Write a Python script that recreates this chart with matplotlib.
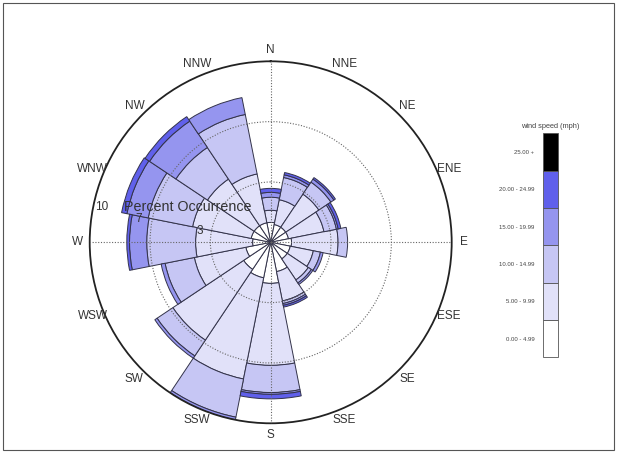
import numpy as np
import matplotlib
matplotlib.use("Agg")
import matplotlib.pyplot as plt
from matplotlib.patches import Rectangle

plt.rcParams['font.family'] = ['Liberation Sans', 'DejaVu Sans']

directions = ["N", "NNE", "NE", "ENE", "E", "ESE", "SE", "SSE",
              "S", "SSW", "SW", "WSW", "W", "WNW", "NW", "NNW"]
bin_labels = ["0.00 - 4.99", "5.00 - 9.99", "10.00 - 14.99",
              "15.00 - 19.99", "20.00 - 24.99", "25.00 +"]
bin_colors = ["#ffffff", "#e1e1f9", "#c6c6f4", "#9595ef", "#6060eb", "#000000"]

# percent occurrence per speed bin (rows follow directions)
spd_0_5 = [1.10, 1.00, 1.00, 1.00, 1.15, 1.10, 1.10, 1.65,
           2.27, 2.00, 1.80, 1.40, 1.00, 1.10, 1.10, 1.10]
spd_5_10 = [0.67, 1.40, 2.20, 2.00, 2.57, 1.30, 1.40, 1.65,
            4.53, 5.70, 4.70, 2.90, 3.15, 3.30, 3.10, 2.75]
spd_10_15 = [0.72, 1.25, 0.80, 0.70, 0.53, 0.40, 0.20, 0.15,
             1.50, 2.15, 1.05, 1.65, 2.70, 2.50, 2.10, 3.35]
spd_15_20 = [0.27, 0.15, 0.20, 0.10, 0.00, 0.15, 0.10, 0.10,
             0.10, 0.15, 0.15, 0.22, 0.95, 1.20, 1.75, 0.95]
spd_20_25 = [0.22, 0.13, 0.10, 0.15, 0.00, 0.00, 0.00, 0.10,
             0.25, 0.00, 0.00, 0.00, 0.15, 0.30, 0.30, 0.00]
spd_25_up = [0.00] * 16

ring_values = [10 / 3, 20 / 3]
ring_labels = ["3", "7", "10"]

bins = [spd_0_5, spd_5_10, spd_10_15, spd_15_20, spd_20_25, spd_25_up]

W, H = 619, 453
fig = plt.figure(figsize=(W / 100, H / 100), dpi=100)
fig.patch.set_facecolor("white")

# outer frame
fig.patches.append(Rectangle((3 / W, 3 / H), 611 / W, 447 / H, transform=fig.transFigure,
                             fill=False, edgecolor="#555555", lw=0.8))

cx, cy, R = 270.7, 242.3, 181.0
ax = fig.add_axes([(cx - R) / W, (H - cy - R) / H, 2 * R / W, 2 * R / H], projection="polar")
ax.set_theta_zero_location("N")
ax.set_theta_direction(-1)
ax.set_ylim(0, 10)

n = len(directions)
theta = np.arange(n) * 2 * np.pi / n
width = 2 * np.pi / n
bottom = np.zeros(n)
for vals, col in zip(bins, bin_colors):
    v = np.array(vals)
    mask = v > 0
    ax.bar(theta[mask], v[mask], width=width, bottom=bottom[mask], color=col,
           edgecolor="#33334a", linewidth=0.7, zorder=1)
    bottom = bottom + v

ax.set_xticks(np.deg2rad([0, 90, 180, 270]))
ax.set_xticklabels([])
ax.set_yticks(ring_values)
ax.set_yticklabels([])
ax.grid(True, color="#666666", linestyle=(0, (1, 1.5)), linewidth=0.8)
ax.set_axisbelow(False)
ax.spines["polar"].set_color("#222222")
ax.spines["polar"].set_linewidth(1.3)
ax.tick_params(length=0)

for d, t in zip(directions, theta):
    ax.text(t, 10.65, d, ha="center", va="center", fontsize=8.5, color="#333333")

# radial labels (pixel positions -> figure fraction)
def ftxt(x, y, s, **kw):
    fig.text(x / W, 1 - y / H, s, **kw)

ftxt(200, 231, ring_labels[0], ha="center", va="center", fontsize=8.5, color="#333333")
ftxt(139, 219, ring_labels[1], ha="center", va="center", fontsize=8.5, color="#333333")
ftxt(102, 207, ring_labels[2], ha="center", va="center", fontsize=8.5, color="#333333")
ftxt(124, 207, "Percent Occurrence", ha="left", va="center", fontsize=10.3, color="#333333")

# legend as stacked boxes
lx0, lx1, ly0, ly1 = 542.7, 558.3, 133.3, 357.3
lax = fig.add_axes([lx0 / W, (H - ly1) / H, (lx1 - lx0) / W, (ly1 - ly0) / H])
lax.bar(np.zeros(len(bin_colors)), np.ones(len(bin_colors)), width=1.0,
        bottom=np.arange(len(bin_colors)), color=bin_colors,
        edgecolor="#555555", linewidth=0.6, clip_on=False)
lax.set_xlim(-0.5, 0.5)
lax.set_ylim(0, len(bin_colors))
lax.set_xticks([])
lax.set_yticks(np.arange(len(bin_colors)) + 0.5)
lax.set_yticklabels(bin_labels, fontsize=4.3, color="#444444")
lax.tick_params(length=0, pad=6)
for s in lax.spines.values():
    s.set_visible(False)
ftxt(550, 126, "wind speed (mph)", ha="center", va="center", fontsize=5.3, color="#444444")

fig.savefig("out.png", dpi=100)
